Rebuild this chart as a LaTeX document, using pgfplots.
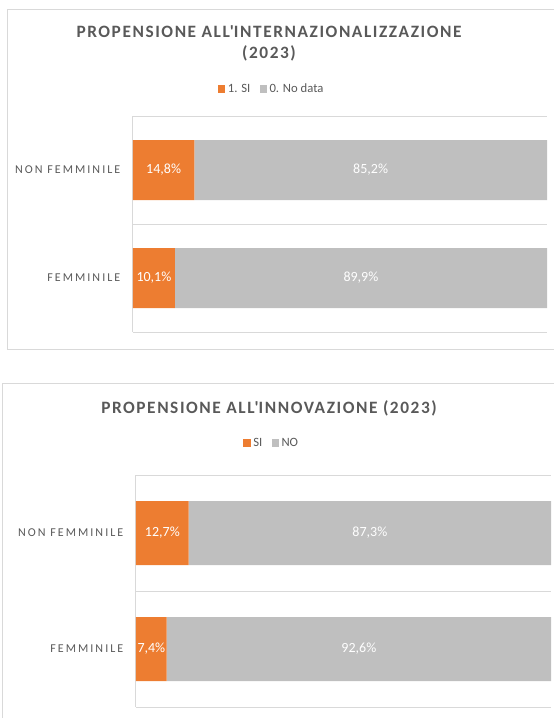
\documentclass[border=0pt]{standalone}
\usepackage{pgfplots}
\pgfplotsset{compat=1.18}
\usepackage{fontspec}
\setmainfont{Carlito}
\newfontfamily\spaced[LetterSpace=17]{Carlito}
\newfontfamily\titlefont[LetterSpace=9]{Carlito}

\definecolor{sior}{HTML}{ED7D31}
\definecolor{nogray}{HTML}{BFBFBF}
\definecolor{txt}{HTML}{595959}
\definecolor{framec}{HTML}{D9D9D9}

\pgfplotsset{
  propbar/.style={
    xbar stacked, scale only axis, clip=false,
    xmin=0, xmax=100, ymin=-0.5, ymax=1.5,
    axis x line=none, axis y line*=left,
    y axis line style={framec, line width=0.75pt},
    ytick={0,1}, yticklabels={FEMMINILE, NON FEMMINILE},
    yticklabel style={font=\spaced\fontsize{9}{10}\selectfont, text=txt, xshift=-6pt},
    major tick length=0pt, minor tick length=0pt,
    minor ytick={-0.5,0.5,1.5}, yminorgrids,
    minor grid style={framec, line width=0.75pt},
    /pgf/number format/assume math mode=true,
    point meta=rawx,
    nodes near coords={\pgfmathprintnumber[fixed,fixed zerofill,precision=1,use comma]{\pgfplotspointmeta}\%},
    every node near coord/.append style={anchor=center, text=white,
      font=\fontsize{10.5}{12}\selectfont},
    legend columns=-1,
    legend style={draw=none, fill=none, font=\fontsize{9.5}{11}\selectfont, text=txt,
      /tikz/every even column/.append style={column sep=5pt}},
    legend image code/.code={\fill[##1] (0pt,-2.7pt) rectangle (5.4pt,2.7pt);},
  }
}

\begin{document}
\begin{tikzpicture}[x=0.75pt,y=-0.75pt]
\useasboundingbox (0,0) rectangle (554,718);
% chart frames
\draw[framec, line width=0.75pt] (554,9) -- (7,9) -- (7,349) -- (554,349);
\draw[framec, line width=0.75pt] (554,383) -- (2.5,383) -- (2.5,720);
% titles
\node[font=\titlefont\bfseries\fontsize{13}{15.75}\selectfont, text=txt, align=center]
  at (269,43.5) {PROPENSIONE ALL\textquotesingle INTERNAZIONALIZZAZIONE\\(2023)};
\node[font=\titlefont\bfseries\fontsize{13}{15.75}\selectfont, text=txt]
  at (269,408) {PROPENSIONE ALL\textquotesingle INNOVAZIONE (2023)};

\begin{axis}[propbar, at={(99.75pt,-249pt)}, anchor=south west,
  width=310.5pt, height=162pt, bar width=45pt,
  legend style={at={(0.336,1.125)}, anchor=center}]
\addplot[fill=sior, draw=none] coordinates {(10.1,0) (14.8,1)};
\addplot[fill=nogray, draw=none] coordinates {(89.9,0) (85.2,1)};
\legend{1. SI, 0. No data}
\end{axis}

\begin{axis}[propbar, at={(102pt,-530.25pt)}, anchor=south west,
  width=311.25pt, height=174pt, bar width=48pt,
  legend style={at={(0.328,1.138)}, anchor=center}]
\addplot[fill=sior, draw=none] coordinates {(7.4,0) (12.7,1)};
\addplot[fill=nogray, draw=none] coordinates {(92.6,0) (87.3,1)};
\legend{SI, NO}
\end{axis}
\end{tikzpicture}
\end{document}
